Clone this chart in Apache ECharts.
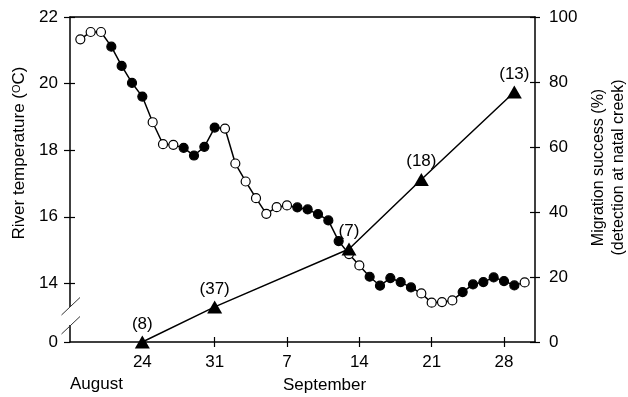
<!DOCTYPE html>
<html>
<head>
<meta charset="utf-8">
<script src="https://cdn.jsdelivr.net/npm/echarts@6/dist/echarts.min.js"></script>
<style>
  html, body { margin: 0; padding: 0; background: #fff; }
  #main { width: 628px; height: 397px; }
</style>
</head>
<body>
<div id="main"></div>
<script>
// day numbers counted from 31 July (Aug 18 = 18, Sep 1 = 32 ...)
var tempDays = [18, 19, 20, 21, 22, 23, 24, 25, 26, 27, 28, 29, 30, 31, 32, 33, 34, 35, 36, 37, 38, 39,
  40, 41, 42, 43, 44, 45, 46, 47, 48, 49, 50, 51, 52, 53, 54, 55, 56, 57, 58, 59, 60, 61];
var temps = [21.33, 21.55, 21.55, 21.11, 20.53, 20.02, 19.61, 18.84, 18.18, 18.16, 18.07, 17.84, 18.10, 18.68,
  18.65, 17.60, 17.06, 16.56, 16.09, 16.29, 16.34, 16.28, 16.22, 16.08, 15.89, 15.27, 14.88, 14.54, 14.20, 13.93,
  14.16, 14.04, 13.88, 13.70, 13.42, 13.44, 13.49, 13.74, 13.97, 14.04, 14.18, 14.07, 13.94, 14.03];
// 1 = filled marker, 0 = open marker
var filled = [0, 0, 0, 1, 1, 1, 1, 0, 0, 0, 1, 1, 1, 1, 0, 0, 0, 0, 0, 0, 0, 1, 1, 1, 1, 1, 0, 0, 1, 1,
  1, 1, 1, 0, 0, 0, 0, 1, 1, 1, 1, 1, 1, 0];

var migDays = [24, 31, 44, 51, 60];
var migSuccess = [0, 10.8, 28.6, 50, 76.9];
var migN = [8, 37, 7, 18, 13];

var xTicks = [24, 31, 38, 45, 52, 59];
var tempTicks = [12.24, 14, 16, 18, 20, 22]; // 12.24 is drawn as the broken "0"
var pctTicks = [0, 20, 40, 60, 80, 100];

var FONT = '"Liberation Sans", Arial, sans-serif';
var chart = echarts.init(document.getElementById('main'));

var tempData = tempDays.map(function (d, i) {
  return {
    value: [d, temps[i]],
    itemStyle: { color: filled[i] ? '#000' : '#fff' }
  };
});
var migData = migDays.map(function (d, i) {
  return { value: [d, migSuccess[i]], n: migN[i] };
});

var option = {
  animation: false,
  textStyle: { fontFamily: FONT, color: '#000' },
  grid: { left: 70, top: 17, width: 465, height: 325, show: false, outerBoundsMode: 'none', containLabel: false },
  xAxis: [
    {
      type: 'value', min: 17, max: 62, position: 'bottom',
      axisLine: { lineStyle: { color: '#000', width: 1.5 } },
      axisTick: { length: 5, customValues: xTicks, lineStyle: { color: '#000', width: 1.2 } },
      axisLabel: {
        customValues: xTicks, margin: 12, fontSize: 17, color: '#000', fontFamily: FONT,
        formatter: function (v) { return String(v > 31 ? v - 31 : v); }
      },
      splitLine: { show: false }
    },
    {
      type: 'value', min: 17, max: 62, position: 'bottom',
      axisLine: { show: false },
      axisTick: { inside: true, length: 5, customValues: xTicks, lineStyle: { color: '#000', width: 1.2 } },
      axisLabel: { show: false },
      splitLine: { show: false }
    },
    {
      type: 'value', min: 17, max: 62, position: 'top',
      axisLine: { lineStyle: { color: '#000', width: 1.5 } },
      axisTick: { show: false },
      axisLabel: { show: false },
      splitLine: { show: false }
    }
  ],
  yAxis: [
    {
      type: 'value', min: 12.24, max: 22, position: 'left',
      name: '{t|River temperature (}{s|O}{t|C)}',
      nameLocation: 'middle', nameGap: 40,
      nameTextStyle: {
        padding: [0, 0, 0, 53],
        rich: {
          t: { fontSize: 17, fontFamily: FONT, color: '#000' },
          s: { fontSize: 11, fontFamily: FONT, color: '#000', verticalAlign: 'top' }
        }
      },
      axisLine: { lineStyle: { color: '#000', width: 1.5 } },
      axisTick: { length: 6, customValues: tempTicks, lineStyle: { color: '#000', width: 1.2 } },
      axisLabel: {
        customValues: tempTicks, margin: 12, fontSize: 17, color: '#000', fontFamily: FONT,
        formatter: function (v) { return v < 13 ? '0' : String(v); }
      },
      splitLine: { show: false }
    },
    {
      type: 'value', min: 12.24, max: 22, position: 'left',
      axisLine: { show: false },
      axisTick: { inside: true, length: 5, customValues: tempTicks.slice(1), lineStyle: { color: '#000', width: 1.2 } },
      axisLabel: { show: false },
      splitLine: { show: false }
    },
    {
      type: 'value', min: 0, max: 100, interval: 20, position: 'right',
      name: 'Migration success (%)\n(detection at natal creek)',
      nameLocation: 'middle', nameGap: 53,
      nameTextStyle: { fontSize: 16, lineHeight: 20, color: '#000', fontFamily: FONT, padding: [0, 0, 0, 24] },
      axisLine: { lineStyle: { color: '#000', width: 1.5 } },
      axisTick: { length: 5, lineStyle: { color: '#000', width: 1.2 } },
      axisLabel: { margin: 14, fontSize: 17, color: '#000', fontFamily: FONT },
      splitLine: { show: false }
    },
    {
      type: 'value', min: 0, max: 100, interval: 20, position: 'right',
      axisLine: { show: false },
      axisTick: { inside: true, length: 5, lineStyle: { color: '#000', width: 1.2 } },
      axisLabel: { show: false },
      splitLine: { show: false }
    }
  ],
  series: [
    {
      name: 'temperature', type: 'line', xAxisIndex: 0, yAxisIndex: 0,
      data: tempData,
      symbol: 'circle', symbolSize: 9,
      lineStyle: { color: '#000', width: 1.5 },
      itemStyle: { borderColor: '#000', borderWidth: 1.2 },
      z: 2
    },
    {
      name: 'migration', type: 'line', xAxisIndex: 0, yAxisIndex: 2,
      data: migData,
      symbol: 'triangle', symbolSize: [15, 13],
      lineStyle: { color: '#000', width: 1.5 },
      itemStyle: { color: '#000' },
      label: {
        show: true, position: 'top', distance: 3, fontSize: 17, color: '#000', fontFamily: FONT,
        formatter: function (p) { return '(' + p.data.n + ')'; }
      },
      z: 3
    }
  ],
  graphic: [
    // axis break on the temperature axis
    { type: 'rect', z: 100, shape: { x: 67, y: 307, width: 7, height: 18 }, style: { fill: '#fff' } },
    { type: 'line', z: 101, shape: { x1: 61.5, y1: 315, x2: 80, y2: 297.5 }, style: { stroke: '#333', lineWidth: 1 } },
    { type: 'line', z: 101, shape: { x1: 61.5, y1: 334, x2: 80, y2: 316.5 }, style: { stroke: '#333', lineWidth: 1 } },
    { type: 'text', z: 100, left: 70, top: 376, style: { text: 'August', font: '17px ' + FONT, fill: '#000' } },
    { type: 'text', z: 100, left: 283, top: 377, style: { text: 'September', font: '17px ' + FONT, fill: '#000' } }
  ]
};

chart.setOption(option);
</script>
</body>
</html>
